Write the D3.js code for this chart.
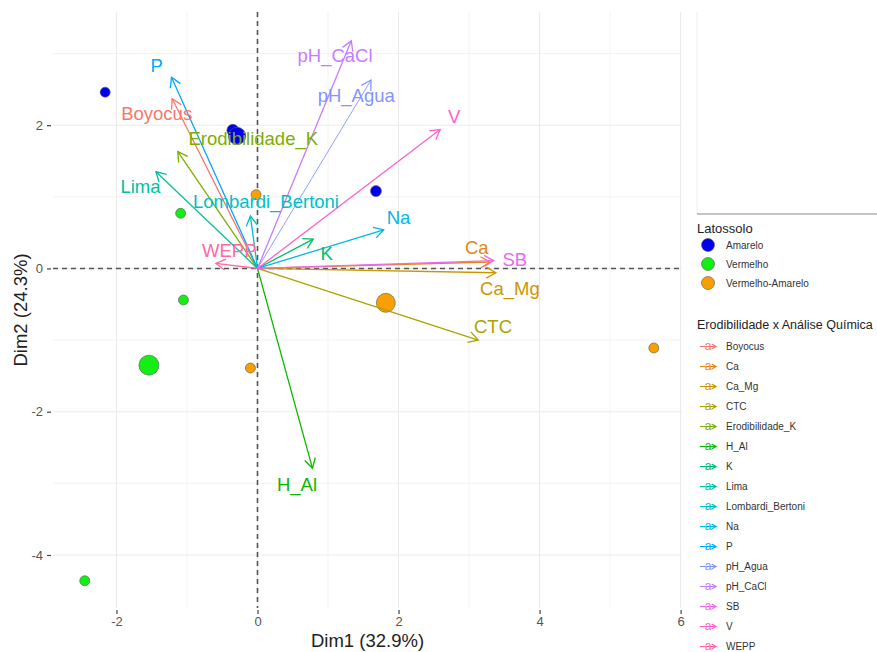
<!DOCTYPE html>
<html>
<head>
<meta charset="utf-8">
<script src="https://cdn.jsdelivr.net/npm/d3@7"></script>
<style>
  body { margin: 0; background: #fff; }
  svg { font-family: "Liberation Sans", Arial, sans-serif; }
</style>
</head>
<body>
<svg id="chart" width="877" height="652"></svg>
<script>
// individuals (PCA scores)
const indX = [-2.16, -0.35, -0.29, 1.68, -0.02, -1.09, -1.05, 1.82, -1.54, -0.10, 5.62, -2.45]
const indY = [2.46, 1.93, 1.85, 1.08, 1.03, 0.77, -0.44, -0.48, -1.35, -1.39, -1.11, -4.36]
const indSolo = ["Amarelo", "Amarelo", "Amarelo", "Amarelo", "Vermelho-Amarelo", "Vermelho",
  "Vermelho", "Vermelho-Amarelo", "Vermelho", "Vermelho-Amarelo", "Vermelho-Amarelo", "Vermelho"]
const indSize = [1, 1.4, 3, 1.2, 1, 1, 1, 3.6, 4, 1, 1, 1]

const soloLevels = ["Amarelo", "Vermelho", "Vermelho-Amarelo"]
const soloColors = ["#0000f0", "#14ee14", "#f9a000"]

// variables (loadings)
const varNames = ["Boyocus", "Ca", "Ca_Mg", "CTC", "Erodibilidade_K", "H_Al", "K", "Lima",
  "Lombardi_Bertoni", "Na", "P", "pH_Agua", "pH_CaCl", "SB", "V", "WEPP"]
const varX = [-1.21, 3.30, 3.38, 3.13, -1.13, 0.78, 0.79, -1.44, -0.10, 1.79, -1.22, 1.61, 1.33, 3.35, 2.59, -0.59]
const varY = [2.37, 0.09, -0.06, -1.00, 1.63, -2.79, 0.41, 1.35, 0.73, 0.54, 2.67, 2.63, 3.18, 0.11, 1.94, 0.07]
const labX = [-1.43, 3.11, 3.58, 3.34, -0.06, 0.56, 0.98, -1.66, 0.12, 2.00, -1.43, 1.40, 1.10, 3.65, 2.79, -0.40]
const labY = [2.17, 0.30, -0.28, -0.81, 1.81, -3.01, 0.21, 1.14, 0.93, 0.72, 2.84, 2.41, 2.97, 0.13, 2.12, 0.25]
const varColors = ["#F8766D", "#E68613", "#CD9600", "#ABA300", "#7CAE00", "#0CB702", "#00BE67", "#00C19A",
  "#00BFC4", "#00B8E7", "#00A9FF", "#8494FF", "#C77CFF", "#ED68ED", "#FF61CC", "#FF68A1"]

const xTicks = [-2, 0, 2, 4, 6]
const yTicks = [-4, -2, 0, 2]
const xMinor = [-1, 1, 3, 5]
const yMinor = [-3, -1, 1, 3]

const svg = d3.select("#chart")
const panel = { left: 53, right: 682, top: 12, bottom: 608 }

const x = d3.scaleLinear().domain([-2.9, 6.02]).range([panel.left, panel.right])
const y = d3.scaleLinear().domain([-4.74, 3.58]).range([panel.bottom, panel.top])
const r = d3.scaleSqrt().domain([1, 4]).range([5, 10])
const soloColor = d3.scaleOrdinal().domain(soloLevels).range(soloColors)
const varColor = d3.scaleOrdinal().domain(varNames).range(varColors)

// grid
const grid = svg.append("g")
grid.selectAll(".vminor").data(xMinor).enter().append("line")
  .attr("x1", d => x(d)).attr("x2", d => x(d)).attr("y1", panel.top).attr("y2", panel.bottom)
  .attr("stroke", "#f0f0f0").attr("stroke-width", 0.8)
grid.selectAll(".hminor").data(yMinor).enter().append("line")
  .attr("y1", d => y(d)).attr("y2", d => y(d)).attr("x1", panel.left).attr("x2", panel.right)
  .attr("stroke", "#f0f0f0").attr("stroke-width", 0.8)
grid.selectAll(".vmajor").data(xTicks).enter().append("line")
  .attr("x1", d => x(d)).attr("x2", d => x(d)).attr("y1", panel.top).attr("y2", panel.bottom)
  .attr("stroke", "#ebebeb").attr("stroke-width", 1.1)
grid.selectAll(".hmajor").data(yTicks).enter().append("line")
  .attr("y1", d => y(d)).attr("y2", d => y(d)).attr("x1", panel.left).attr("x2", panel.right)
  .attr("stroke", "#ebebeb").attr("stroke-width", 1.1)

// axes
const xAxis = d3.axisBottom(x).tickValues(xTicks).tickSize(4).tickPadding(3).tickFormat(d3.format("d"))
const gx = svg.append("g").attr("transform", "translate(0," + (panel.bottom + 2) + ")").call(xAxis)
const yAxis = d3.axisLeft(y).tickValues(yTicks).tickSize(4).tickPadding(4).tickFormat(d3.format("d"))
const gy = svg.append("g").attr("transform", "translate(" + (panel.left - 2) + ",0)").call(yAxis)
;[gx, gy].forEach(g => {
  g.select(".domain").remove()
  g.selectAll(".tick line").attr("stroke", "#444").attr("stroke-width", 1.2)
  g.selectAll(".tick text").attr("fill", "#555").attr("font-size", 13)
    .attr("font-family", "Liberation Sans, Arial, sans-serif")
})
gx.selectAll(".tick text").text(d => d < 0 ? "-" + Math.abs(d) : d)
gy.selectAll(".tick text").text(d => d < 0 ? "-" + Math.abs(d) : d)

svg.append("text").attr("x", (panel.left + panel.right) / 2).attr("y", 647)
  .attr("text-anchor", "middle").attr("font-size", 18.5).attr("fill", "#222").text("Dim1 (32.9%)")
svg.append("text").attr("transform", "translate(27," + (panel.top + panel.bottom) / 2 + ") rotate(-90)")
  .attr("text-anchor", "middle").attr("font-size", 18.5).attr("fill", "#222").text("Dim2 (24.3%)")

// zero lines
svg.append("line").attr("x1", panel.left).attr("x2", panel.right).attr("y1", y(0)).attr("y2", y(0))
  .attr("stroke", "#555").attr("stroke-width", 1.6).attr("stroke-dasharray", "5,4")
svg.append("line").attr("x1", x(0)).attr("x2", x(0)).attr("y1", panel.top).attr("y2", panel.bottom)
  .attr("stroke", "#555").attr("stroke-width", 1.6).attr("stroke-dasharray", "5,4")

// points
const ind = indX.map((d, i) => ({ x: d, y: indY[i], solo: indSolo[i], size: indSize[i] }))
svg.append("g").selectAll("circle").data(ind).enter().append("circle")
  .attr("cx", d => x(d.x)).attr("cy", d => y(d.y)).attr("r", d => r(d.size))
  .attr("fill", d => soloColor(d.solo)).attr("stroke", "#555").attr("stroke-width", 0.6)

// arrows
function arrowHead(g, x1, y1, x2, y2, color, len) {
  const a = Math.atan2(y2 - y1, x2 - x1)
  const spread = Math.PI / 6
  const p1 = [x2 - len * Math.cos(a - spread), y2 - len * Math.sin(a - spread)]
  const p2 = [x2 - len * Math.cos(a + spread), y2 - len * Math.sin(a + spread)]
  g.append("path").attr("d", "M" + p1 + "L" + x2 + "," + y2 + "L" + p2)
    .attr("fill", "none").attr("stroke", color).attr("stroke-width", 1.3)
}

const vars = varNames.map((n, i) => ({ name: n, x: varX[i], y: varY[i], lx: labX[i], ly: labY[i] }))
const arrows = svg.append("g")
vars.forEach(v => {
  const c = varColor(v.name)
  arrows.append("line").attr("x1", x(0)).attr("y1", y(0)).attr("x2", x(v.x)).attr("y2", y(v.y))
    .attr("stroke", c).attr("stroke-width", v.name === "pH_Agua" ? 0.9 : 1.3)
  arrowHead(arrows, x(0), y(0), x(v.x), y(v.y), c, 11)
})
svg.append("g").selectAll("text").data(vars).enter().append("text")
  .attr("x", d => x(d.lx)).attr("y", d => y(d.ly)).attr("dy", "0.36em")
  .attr("text-anchor", "middle").attr("font-size", 18.5)
  .attr("fill", d => varColor(d.name)).text(d => d.name)

// legend
const lg = svg.append("g")
lg.append("line").attr("x1", 697).attr("x2", 697).attr("y1", 12).attr("y2", 214)
  .attr("stroke", "#eee").attr("stroke-width", 1)
lg.append("line").attr("x1", 697).attr("x2", 877).attr("y1", 214).attr("y2", 214)
  .attr("stroke", "#888").attr("stroke-width", 1)

lg.append("text").attr("x", 697).attr("y", 233).attr("font-size", 13).attr("fill", "#222").text("Latossolo")
soloLevels.forEach((s, i) => {
  const cy = 245 + i * 19
  lg.append("circle").attr("cx", 708).attr("cy", cy).attr("r", 6.5)
    .attr("fill", soloColor(s)).attr("stroke", "#555").attr("stroke-width", 0.6)
  lg.append("text").attr("x", 726).attr("y", cy).attr("dy", "0.35em")
    .attr("font-size", 10).attr("fill", "#333").text(s)
})

lg.append("text").attr("x", 697).attr("y", 329).attr("font-size", 12.5).attr("fill", "#222")
  .text("Erodibilidade x Análise Química")
varNames.forEach((n, i) => {
  const cy = 346.5 + i * 20
  const c = varColor(n)
  lg.append("line").attr("x1", 700).attr("x2", 716).attr("y1", cy).attr("y2", cy)
    .attr("stroke", c).attr("stroke-width", 1.1)
  arrowHead(lg, 700, cy, 716, cy, c, 5)
  lg.append("text").attr("x", 708).attr("y", cy).attr("dy", "0.33em").attr("text-anchor", "middle")
    .attr("font-size", 12).attr("fill", c).text("a")
  lg.append("text").attr("x", 726).attr("y", cy).attr("dy", "0.35em")
    .attr("font-size", 10).attr("fill", "#333").text(n)
})
</script>
</body>
</html>
